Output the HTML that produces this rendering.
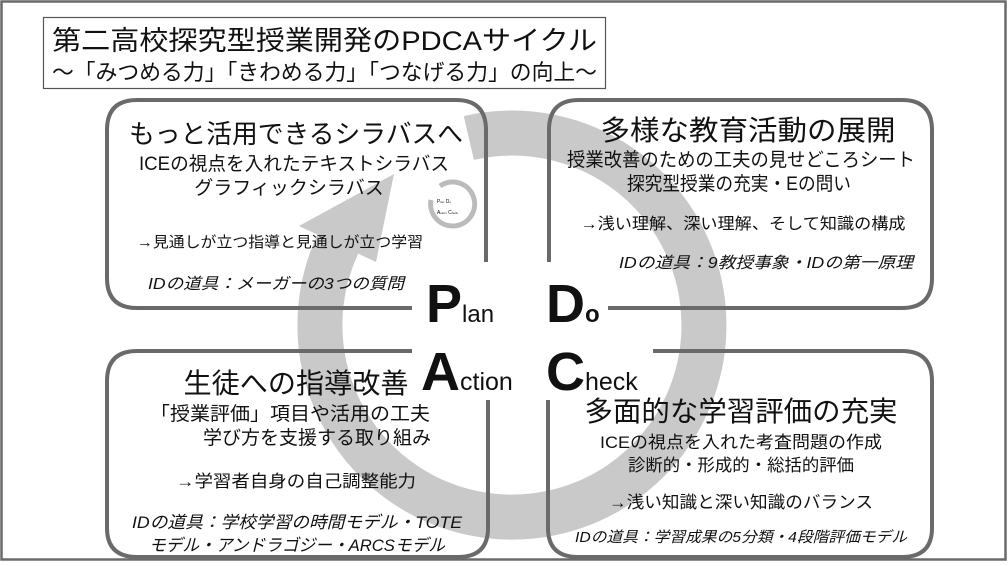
<!DOCTYPE html>
<html><head><meta charset="utf-8"><style>
html,body{margin:0;padding:0;background:#fff;}
svg{display:block;}
text{font-family:"Liberation Sans","Noto Sans CJK JP",sans-serif;fill:#111;}
.it{font-style:italic;}
.big{font-weight:bold;}
</style></head><body>
<svg width="1008" height="566" viewBox="0 0 1008 566" xmlns="http://www.w3.org/2000/svg">
<rect x="0" y="0" width="1008" height="566" fill="#fff"/>
<rect x="1.5" y="1.5" width="1004" height="558" fill="none" stroke="#6a6a6a" stroke-width="2.5"/>
<!-- ring -->
<path d="M468.8,138 A192,192 0 1 1 338,243.8" fill="none" stroke="#c9c9c9" stroke-width="45"/>
<polygon points="376,262 299,226 394,174" fill="#c9c9c9"/>
<!-- title -->
<rect x="43.5" y="17.5" width="562" height="71" fill="#fff" stroke="#555" stroke-width="1.2"/>
<text x="52" y="50" font-size="27" textLength="545" lengthAdjust="spacingAndGlyphs">第二高校探究型授業開発のPDCAサイクル</text>
<text x="52" y="80" font-size="22" textLength="545" lengthAdjust="spacingAndGlyphs">～「みつめる力」「きわめる力」「つなげる力」の向上～</text>
<!-- boxes -->
<g fill="none" stroke="#6a6a6a" stroke-width="4">
<path d="M412,308 H137 Q107,308 107,278 V130 Q107,100 137,100 H456 Q486,100 486,130 V262"/>
<path d="M549,262 V130 Q549,100 579,100 H902 Q932,100 932,130 V278 Q932,308 902,308 H608"/>
<path d="M412,351 H137 Q107,351 107,381 V528 Q107,557 137,557 H458 Q488,557 488,528 V400"/>
<path d="M653,351 H902 Q932,351 932,381 V528 Q932,557 902,557 H578 Q548,557 548,528 V400"/>
</g>
<!-- mini icon -->
<path d="M440,186 A22,22 0 1 1 431,200" fill="none" stroke="#bbb" stroke-width="5"/>
<text x="437" y="203" font-size="5">P<tspan font-size="3">lan</tspan> D<tspan font-size="3">o</tspan></text>
<text x="437" y="214" font-size="5">A<tspan font-size="3">ction</tspan> C<tspan font-size="3">heck</tspan></text>
<!-- PDCA labels -->
<text class="big" x="426" y="322" font-size="54">P<tspan font-size="24" font-weight="normal">lan</tspan></text>
<text class="big" x="546" y="322" font-size="54">D<tspan font-size="24">o</tspan></text>
<text class="big" x="421" y="390" font-size="54">A<tspan font-size="25" font-weight="normal">ction</tspan></text>
<text class="big" x="546" y="390" font-size="54">C<tspan font-size="25" font-weight="normal">heck</tspan></text>
<g text-anchor="middle">
<text x="296" y="143" font-size="26" textLength="334" lengthAdjust="spacingAndGlyphs">もっと活用できるシラバスへ</text>
<text x="294" y="170" font-size="19" textLength="310" lengthAdjust="spacingAndGlyphs">ICEの視点を入れたテキストシラバス</text>
<text x="289" y="194" font-size="19">グラフィックシラバス</text>
<text x="280" y="247" font-size="15" textLength="286" lengthAdjust="spacingAndGlyphs">→見通しが立つ指導と見通しが立つ学習</text>
<text x="276" y="289" font-size="16" class="it" textLength="256" lengthAdjust="spacingAndGlyphs">IDの道具：メーガーの3つの質問</text>
<text x="748" y="140" font-size="28" textLength="295" lengthAdjust="spacingAndGlyphs">多様な教育活動の展開</text>
<text x="741" y="166" font-size="19" textLength="348" lengthAdjust="spacingAndGlyphs">授業改善のための工夫の見せどころシート</text>
<text x="739" y="190" font-size="19" textLength="224" lengthAdjust="spacingAndGlyphs">探究型授業の充実・Eの問い</text>
<text x="743" y="229" font-size="16" textLength="325" lengthAdjust="spacingAndGlyphs">→浅い理解、深い理解、そして知識の構成</text>
<text x="766" y="268" font-size="16" class="it" textLength="294" lengthAdjust="spacingAndGlyphs">IDの道具：9教授事象・IDの第一原理</text>
<text x="296" y="393" font-size="28" textLength="225" lengthAdjust="spacingAndGlyphs">生徒への指導改善</text>
<text x="290" y="420" font-size="19" textLength="280" lengthAdjust="spacingAndGlyphs">「授業評価」項目や活用の工夫</text>
<text x="317" y="444" font-size="19" textLength="228" lengthAdjust="spacingAndGlyphs">学び方を支援する取り組み</text>
<text x="296" y="487" font-size="17" textLength="240" lengthAdjust="spacingAndGlyphs">→学習者自身の自己調整能力</text>
<text x="297" y="528" font-size="17" class="it" textLength="330" lengthAdjust="spacingAndGlyphs">IDの道具：学校学習の時間モデル・TOTE</text>
<text x="297" y="551" font-size="17" class="it" textLength="296" lengthAdjust="spacingAndGlyphs">モデル・アンドラゴジー・ARCSモデル</text>
<text x="741" y="421" font-size="28" textLength="313" lengthAdjust="spacingAndGlyphs">多面的な学習評価の充実</text>
<text x="741" y="448" font-size="17" textLength="282" lengthAdjust="spacingAndGlyphs">ICEの視点を入れた考査問題の作成</text>
<text x="741" y="471" font-size="17" textLength="226" lengthAdjust="spacingAndGlyphs">診断的・形成的・総括的評価</text>
<text x="741" y="508" font-size="17" textLength="264" lengthAdjust="spacingAndGlyphs">→浅い知識と深い知識のバランス</text>
<text x="741" y="542" font-size="15" class="it" textLength="332" lengthAdjust="spacingAndGlyphs">IDの道具：学習成果の5分類・4段階評価モデル</text>
</g>
</svg>
</body></html>
